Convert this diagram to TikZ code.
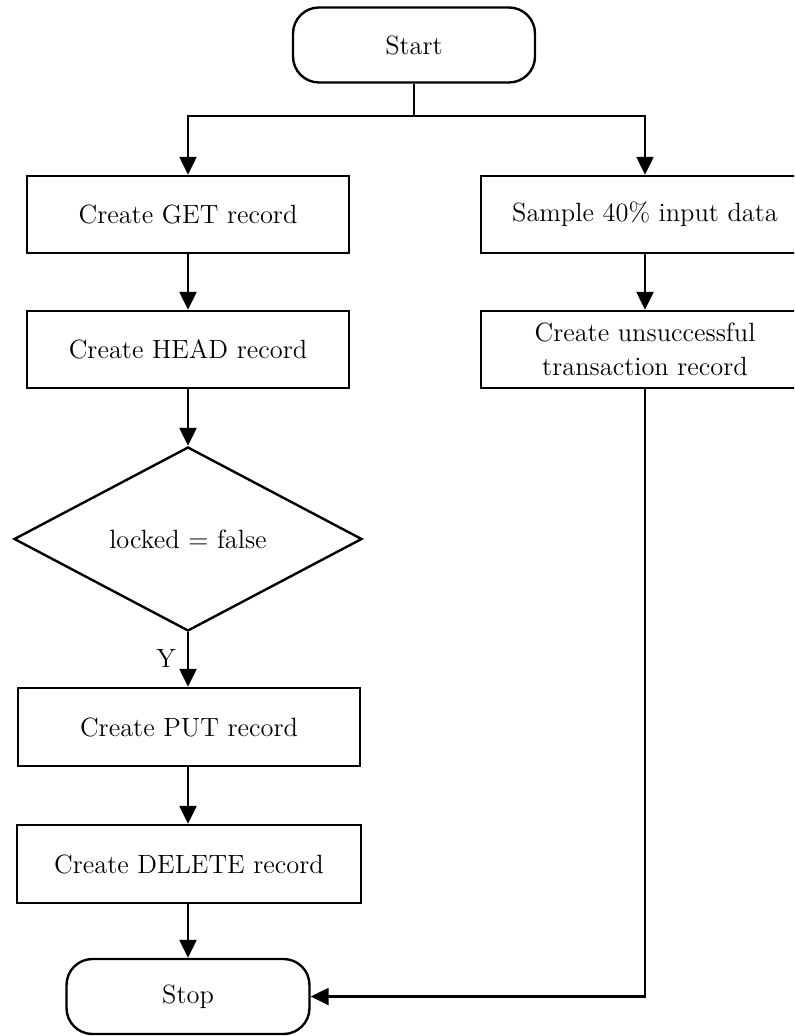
\documentclass[tikz,border=0pt]{standalone}
\usetikzlibrary{shapes.geometric,arrows.meta}
\begin{document}
\begin{tikzpicture}[
  x=0.5pt, y=-0.5pt,
  font=\fontsize{13.2}{16.8}\selectfont,
  every node/.style={line width=1.2pt, inner sep=0pt, align=center},
  procbox/.style={draw, minimum width=161pt, minimum height=38.5pt},
  termbox/.style={draw, rounded corners=13pt, minimum width=121pt, minimum height=37.5pt},
  decision/.style={draw, diamond, aspect=1.9, minimum width=174pt, minimum height=92pt},
  flow/.style={line width=1.2pt, -{Triangle[length=9pt,width=8.5pt]}},
  plain/.style={line width=1.2pt}
]
\useasboundingbox (0,0) rectangle (794,1036);
\clip (0,0) rectangle (794,1036);

% terminals
\node[termbox] (start) at (414,45) {Start};
\node[termbox, minimum width=121.5pt] (stop) at (188,996.5) {Stop};

% left column
\node[procbox] (get)  at (188,214.5) {Create GET record};
\node[procbox] (head) at (188,349.5) {Create HEAD record};
\node[decision] (lock) at (188,539) {locked = false};
\node[procbox, minimum width=171pt, minimum height=39pt] (put) at (189,727) {Create PUT record};
\node[procbox, minimum width=172pt, minimum height=39pt] (del) at (189,864) {Create DELETE record};

% right column
\node[procbox, minimum width=164pt] (sample) at (645,214.5) {Sample 40\% input data};
\node[procbox, minimum width=164pt] (fail) at (645,349.5) {Create unsuccessful\\transaction record};

% branch point below Start
\coordinate (split) at (414,116);

\node (ylab) at (166,658) {Y};

% connectors
\draw[plain] (start.south) -- (split);
\draw[flow] (split) -| (get.north);
\draw[flow] (split) -| (sample.north);
\draw[flow] (get.south) -- (head.north);
\draw[flow] (head.south) -- (lock.north);
\draw[flow] (lock.south) -- (lock.south |- put.north);
\draw[flow] (put.south -| lock.south) -- (lock.south |- del.north);
\draw[flow] (del.south -| lock.south) -- (lock.south |- stop.north);
\draw[flow] (sample.south) -- (fail.north);
\draw[flow] (fail.south) |- (stop.east);
\end{tikzpicture}
\end{document}
